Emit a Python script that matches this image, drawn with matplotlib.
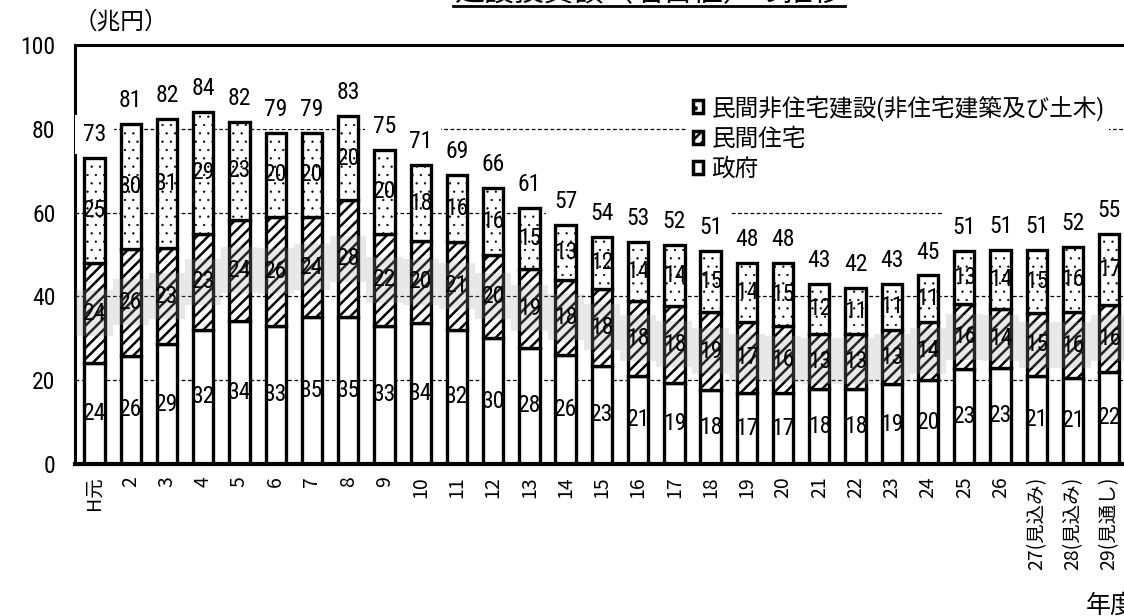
import numpy as np
import matplotlib
matplotlib.use("Agg")
import matplotlib.pyplot as plt
from matplotlib import font_manager
from matplotlib.patches import Patch
from matplotlib.lines import Line2D

# pick a narrow latin face for the numbers if one is installed
cands = [f for f in font_manager.fontManager.ttflist
         if f.stretch in ('condensed', 'semi-condensed', 'extra-condensed') and f.style == 'normal']
num_family, num_stretch, narrow = 'Liberation Sans', 'normal', False
for pref in ['Liberation Sans Narrow', 'Arial Narrow', 'Noto Sans', 'Roboto', 'Open Sans', 'DejaVu Sans']:
    hits = [f for f in cands if f.name.startswith(pref)]
    hits.sort(key=lambda f: abs((f.weight if isinstance(f.weight, int) else 400) - 400))
    if hits:
        num_family, num_stretch, narrow = hits[0].name, hits[0].stretch, True
        break

plt.rcParams['font.family'] = [num_family, 'Noto Sans CJK JP', 'DejaVu Sans']
plt.rcParams['font.stretch'] = num_stretch
plt.rcParams['hatch.linewidth'] = 1.8
num_size = 17 if narrow else 14.5

# fiscal years (Heisei)
years = ['H元', '2', '3', '4', '5', '6', '7', '8', '9', '10', '11', '12', '13', '14',
         '15', '16', '17', '18', '19', '20', '21', '22', '23', '24', '25', '26',
         '27(見込み)', '28(見込み)', '29(見通し)']

# 兆円
government = [24.0, 25.8, 28.6, 32.0, 34.2, 33.0, 35.0, 35.0, 33.0, 33.6, 32.0, 30.0,
              27.8, 26.0, 23.4, 21.0, 19.4, 17.6, 17.0, 17.0, 18.0, 18.0, 19.0, 20.0,
              22.6, 23.0, 21.0, 20.6, 22.0]
housing = [24.0, 25.6, 22.9, 23.0, 24.1, 26.0, 24.0, 28.0, 22.0, 19.7, 21.0, 20.0,
           18.8, 18.0, 18.4, 18.0, 18.4, 18.6, 17.0, 16.0, 13.0, 13.0, 13.0, 14.0,
           15.6, 14.0, 15.0, 15.6, 16.0]
non_residential = [25.0, 29.8, 30.9, 29.0, 23.4, 20.0, 20.0, 20.0, 20.0, 18.0, 16.0, 16.0,
                   14.6, 13.0, 12.4, 14.0, 14.4, 14.6, 14.0, 15.0, 12.0, 11.0, 11.0, 11.0,
                   12.6, 14.0, 15.0, 15.6, 17.0]

series_names = ['民間非住宅建設(非住宅建築及び土木)', '民間住宅', '政府']

gov = np.array(government)
hou = np.array(housing)
non = np.array(non_residential)
total = gov + hou + non
x = np.arange(len(years))

fig = plt.figure(figsize=(11.24, 6.16), dpi=100)
ax = fig.add_axes([0.0667, 0.2468, 0.946, 0.680])

w = 0.56
lw = 2.4
ax.bar(x, gov, w, color='white', edgecolor='black', linewidth=lw, zorder=2)
ax.bar(x, hou, w, bottom=gov, color='white', edgecolor='black', hatch='///',
       linewidth=lw, zorder=2)
dots = ax.bar(x, non, w, bottom=gov + hou, color='white', edgecolor='black', hatch='..',
              linewidth=lw, zorder=2)
for p in dots:
    if hasattr(p, 'set_hatch_linewidth'):
        p.set_hatch_linewidth(0.4)

# faded grey strip around the housing labels (scan artefact in the source)
mid = gov + hou / 2
ax.bar(x, 11, width=1.0, bottom=mid - 5.5, color='#a0a0a0', alpha=0.24,
       linewidth=0, zorder=3)

for xi, g, h, n, t in zip(x, gov, hou, non, total):
    ax.text(xi, g / 2, f'{g:.0f}', ha='center', va='center', fontsize=num_size, zorder=5)
    ax.text(xi, g + h / 2, f'{h:.0f}', ha='center', va='center', fontsize=num_size, zorder=5)
    ax.text(xi, g + h + n / 2, f'{n:.0f}', ha='center', va='center', fontsize=num_size, zorder=5)
    ax.text(xi, t + 5.6, f'{t:.0f}', ha='center', va='center', fontsize=num_size, zorder=5,
            bbox=dict(facecolor='white', edgecolor='none', pad=6))

ax.set_xlim(-0.538, 28.8)
ax.set_ylim(0, 100)
ax.set_yticks(range(0, 101, 20))
ax.yaxis.grid(True, linestyle=(0, (3, 2)), color='black', linewidth=0.9)
ax.set_axisbelow(True)
ax.tick_params(axis='y', length=0, pad=14, labelsize=17)
ax.set_xticks(x)
ax.set_xticklabels(years, rotation=90, fontsize=14, family=['Noto Sans CJK JP', 'DejaVu Sans'])
ax.tick_params(axis='x', length=0, pad=9)

ax.spines['right'].set_visible(False)
ax.spines['left'].set_linewidth(2.2)
ax.spines['top'].set_linewidth(2.2)
ax.spines['bottom'].set_linewidth(3)

handles = [Patch(facecolor='white', edgecolor='black', hatch='..', linewidth=2.5),
           Patch(facecolor='white', edgecolor='black', hatch='///', linewidth=2.5),
           Patch(facecolor='white', edgecolor='black', linewidth=2.5)]
leg = ax.legend(handles, series_names, loc='upper left',
                bbox_to_anchor=(688 / 1124, 1 - 90 / 616), bbox_transform=fig.transFigure,
                fontsize=17, handlelength=0.45, handleheight=0.45, handletextpad=0.35,
                labelspacing=0.3, borderpad=0.2, borderaxespad=0, frameon=True,
                fancybox=False)
leg.get_frame().set_edgecolor('none')
leg.get_frame().set_facecolor('white')
leg.get_frame().set_alpha(1)
leg.set_zorder(6)

fig.text(121 / 1124, 1 - 22 / 616, '（兆円）', ha='center', va='center', fontsize=17,
         family=['Noto Sans CJK JP'])
fig.text(1086 / 1124, 23 / 616, '年度', ha='left', va='top', fontsize=18,
         family=['Noto Sans CJK JP'])

# title, mostly cut off at the top edge, with underline
fig.text(649 / 1124, 1 - 1 / 616, '建設投資額（名目値）の推移', ha='center', va='baseline',
         fontsize=21.5, family=['Noto Sans CJK JP'])
fig.add_artist(Line2D([453 / 1124, 845 / 1124], [1 - 6 / 616, 1 - 6 / 616],
                      color='black', linewidth=2, transform=fig.transFigure))

fig.savefig('out.png', dpi=100)
